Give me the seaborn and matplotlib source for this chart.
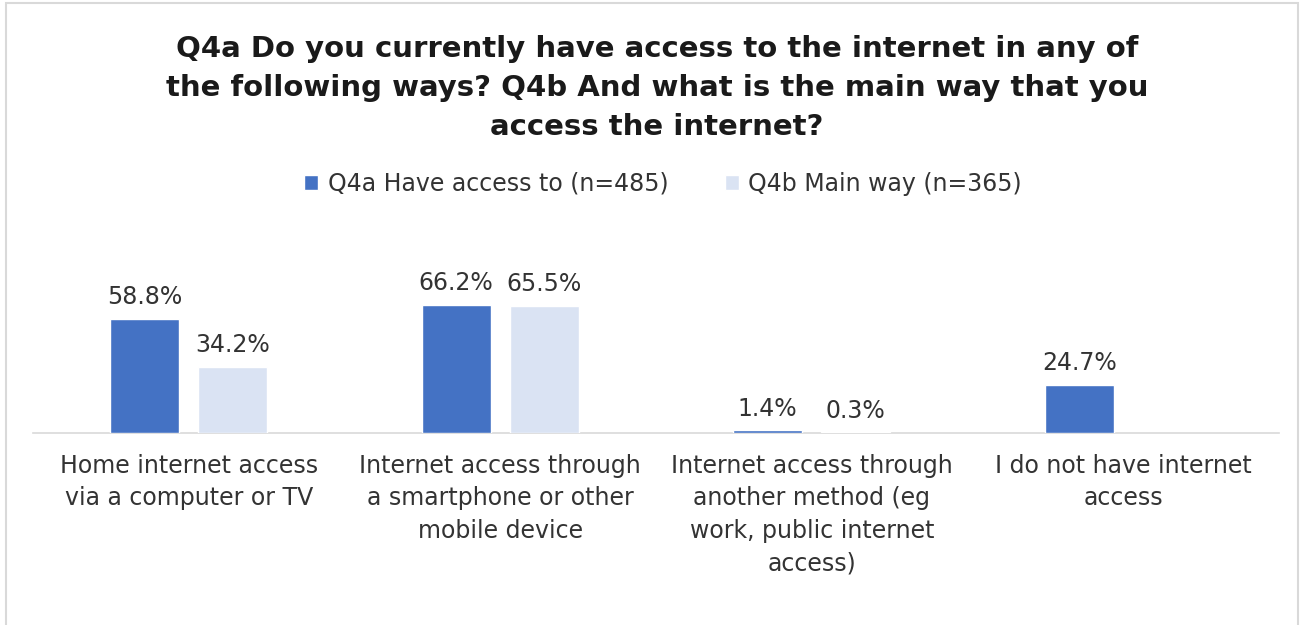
import numpy as np
import pandas as pd
import matplotlib
matplotlib.use("Agg")
import matplotlib.pyplot as plt
import seaborn as sns
from matplotlib.patches import Rectangle

categories = [
    "Home internet access\nvia a computer or TV",
    "Internet access through\na smartphone or other\nmobile device",
    "Internet access through\nanother method (eg\nwork, public internet\naccess)",
    "I do not have internet\naccess",
]
series_names = ["Q4a Have access to (n=485)", "Q4b Main way (n=365)"]
q4a_values = [58.8, 66.2, 1.4, 24.7]
q4b_values = [34.2, 65.5, 0.3, np.nan]
title = ("Q4a Do you currently have access to the internet in any of\n"
         "the following ways? Q4b And what is the main way that you\n"
         "access the internet?")
colors = ["#4472C4", "#DAE3F3"]

sns.set_theme(style="white")
plt.rcParams['font.family'] = ['DejaVu Sans']

df = pd.DataFrame({
    "category": categories * 2,
    "series": [series_names[0]] * len(categories) + [series_names[1]] * len(categories),
    "value": q4a_values + q4b_values,
})

W, H = 1306, 625
fig = plt.figure(figsize=(W / 100, H / 100), dpi=100)
ax = fig.add_axes([33 / W, 1 - 433 / H, (1279 - 33) / W, 194 / H])
sns.barplot(data=df, x="category", y="value", hue="series", order=categories,
            hue_order=series_names, palette=colors, width=0.566, gap=0.215,
            errorbar=None, ax=ax, legend=True, saturation=1)

ax.set_ylim(0, 100)
ax.set_xlim(-0.5, 3.5)
for s in ["top", "right", "left"]:
    ax.spines[s].set_visible(False)
ax.spines["bottom"].set_color("#d9d9d9")
ax.spines["bottom"].set_linewidth(1.2)
ax.spines["bottom"].set_zorder(0.5)
ax.set_yticks([])
ax.set_xlabel("")
ax.set_ylabel("")
ax.set_xticks(range(len(categories)))
ax.set_xticklabels(categories, fontsize=17, color="#333333", linespacing=1.45)
ax.tick_params(axis="x", length=0, pad=15)

for cont in ax.containers:
    vals = cont.datavalues
    labels = ["" if np.isnan(v) else f"{v:.1f}%" for v in vals]
    ax.bar_label(cont, labels=labels, padding=7, fontsize=17, color="#333333")

handles, labels = ax.get_legend_handles_labels()
if ax.get_legend() is not None:
    ax.get_legend().remove()
leg = fig.legend(handles, labels, loc="center", bbox_to_anchor=(663 / W, 1 - 184 / H),
                 ncol=2, frameon=False, fontsize=17, handlelength=0.6, handleheight=0.6,
                 handletextpad=0.4, columnspacing=2.4)
for t in leg.get_texts():
    t.set_color("#333333")

fig.text(657 / W, 1 - 88 / H, title, ha="center", va="center", fontsize=21,
         fontweight="bold", color="#1a1a1a", linespacing=1.48)

fig.patches.append(Rectangle((6 / W, -0.02), (1298 - 6) / W, 1.02 - 3 / H,
                             transform=fig.transFigure, fill=False,
                             edgecolor="#d9d9d9", linewidth=1.5))

fig.savefig("out.png", dpi=100)
